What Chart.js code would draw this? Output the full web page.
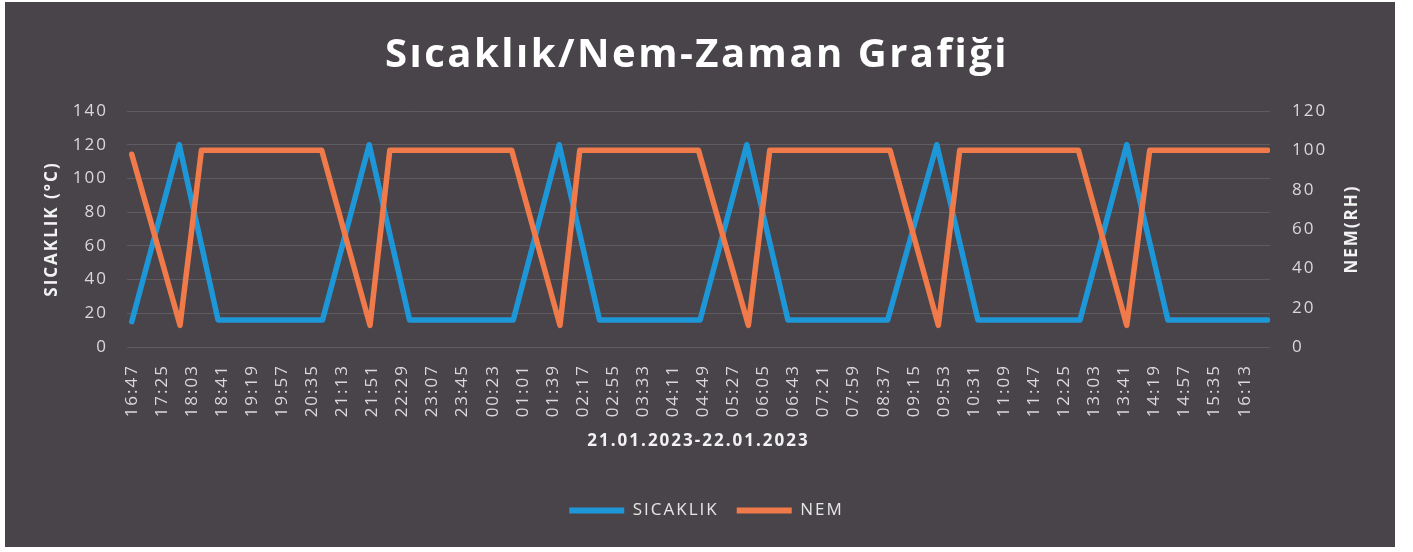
<!DOCTYPE html>
<html lang="tr">
<head>
  <meta charset="UTF-8" />
  <title>Sıcaklık/Nem-Zaman Grafiği</title>
  <script src="https://cdn.jsdelivr.net/npm/chart.js"></script>
  <style>
    * { box-sizing: border-box; margin: 0; padding: 0; }
    body { background: #fff; width: 1413px; height: 552px; overflow: hidden; }
    canvas { display: block; }
  </style>
</head>
<body>
  <canvas id="chart" width="1413" height="552"></canvas>

  <script>
    // x labels, one every 38 minutes starting 21.01.2023 16:47
    const timeLabels = [
      '16:47', '17:25', '18:03', '18:41', '19:19', '19:57', '20:35', '21:13', '21:51', '22:29',
      '23:07', '23:45', '00:23', '01:01', '01:39', '02:17', '02:55', '03:33', '04:11', '04:49',
      '05:27', '06:05', '06:43', '07:21', '07:59', '08:37', '09:15', '09:53', '10:31', '11:09',
      '11:47', '12:25', '13:03', '13:41', '14:19', '14:57', '15:35', '16:13'
    ];
    const labelStep = 38; // minutes between labels

    // SICAKLIK: minutes after 16:47 and value (°C) at each corner of the line
    const tempTimes  = [0, 60, 109, 241, 300, 351, 482, 540, 591, 718, 777, 829, 955, 1017, 1069, 1198, 1257, 1309, 1435];
    const tempValues = [15, 120, 16, 16, 120, 16, 16, 120, 16, 16, 120, 16, 16, 120, 16, 16, 120, 16, 16];

    // NEM: minutes after 16:47 and value (RH)
    const humTimes  = [0, 61, 88, 240, 301, 326, 480, 541, 566, 716, 779, 806, 958, 1019, 1046, 1196, 1257, 1286, 1435];
    const humValues = [98, 11, 100, 100, 11, 100, 100, 11, 100, 100, 11, 100, 100, 11, 100, 100, 11, 100, 100];

    const BLUE = '#1e97d8';
    const ORANGE = '#f07a4a';
    const BG = '#48444a';
    const FONT = "'Open Sans', sans-serif";

    Chart.defaults.font.family = FONT;
    Chart.defaults.font.size = 17;
    Chart.defaults.color = '#d9d9d9';

    const toPoints = (xs, ys) => xs.map((x, i) => ({ x: x, y: ys[i] }));

    // wide letter spacing, like the excel chart style
    const spacing = {
      id: 'spacing',
      beforeUpdate(chart) { chart.ctx.letterSpacing = '2px'; },
      beforeLayout(chart) { chart.ctx.letterSpacing = '2px'; },
      beforeDraw(chart) {
        const ctx = chart.ctx;
        ctx.save();
        ctx.fillStyle = '#ffffff';
        ctx.fillRect(0, 0, chart.width, chart.height);
        ctx.fillStyle = BG;
        ctx.fillRect(5, 2, 1390, 545);
        ctx.restore();
        ctx.letterSpacing = '2px';
      },
      afterDraw(chart) {
        const ctx = chart.ctx;
        ctx.save();
        ctx.fillStyle = '#ffffff';
        ctx.textAlign = 'center';
        ctx.textBaseline = 'alphabetic';
        ctx.letterSpacing = '2.5px';
        ctx.font = "bold 40px " + FONT;
        ctx.fillText('Sıcaklık/Nem-Zaman Grafiği', 697, 67);

        // right axis title reads bottom to top
        ctx.letterSpacing = '2px';
        ctx.font = "bold 17px " + FONT;
        ctx.fillStyle = '#f2f2f2';
        ctx.textBaseline = 'middle';
        ctx.translate(1352, 229);
        ctx.rotate(-Math.PI / 2);
        ctx.fillText('NEM(RH)', 0, 0);
        ctx.restore();
      }
    };

    new Chart(document.getElementById('chart'), {
      type: 'line',
      data: {
        datasets: [
          {
            label: 'SICAKLIK',
            data: toPoints(tempTimes, tempValues),
            yAxisID: 'y',
            borderColor: BLUE,
            backgroundColor: BLUE,
            borderWidth: 5.5,
            pointRadius: 0,
            borderJoinStyle: 'round',
            borderCapStyle: 'round',
            order: 1
          },
          {
            label: 'NEM',
            data: toPoints(humTimes, humValues),
            yAxisID: 'y1',
            borderColor: ORANGE,
            backgroundColor: ORANGE,
            borderWidth: 5.5,
            pointRadius: 0,
            borderJoinStyle: 'round',
            borderCapStyle: 'round',
            order: 0
          }
        ]
      },
      options: {
        responsive: false,
        animation: false,
        layout: { padding: { top: 111, bottom: 23, left: 0, right: 0 } },
        plugins: {
          title: { display: false },
          tooltip: { enabled: false },
          legend: {
            position: 'bottom',
            labels: {
              boxWidth: 55,
              boxHeight: 6,
              padding: 18,
              color: '#e6e6e6',
              sort: (a, b) => a.datasetIndex - b.datasetIndex,
              generateLabels: ch => Chart.defaults.plugins.legend.labels.generateLabels(ch)
                .map(l => Object.assign(l, { lineWidth: 0 }))
            }
          }
        },
        scales: {
          x: {
            type: 'linear',
            min: -6,
            max: 1438,
            grid: { display: false },
            border: { display: false },
            afterBuildTicks: s => { s.ticks = timeLabels.map((_, i) => ({ value: i * labelStep })); },
            afterFit: s => { s.height = 137; },
            ticks: {
              autoSkip: false,
              maxRotation: 90,
              minRotation: 90,
              padding: 9,
              color: '#d9d9d9',
              callback: (v, i) => timeLabels[i]
            },
            title: {
              display: true,
              text: '21.01.2023-22.01.2023',
              color: '#f2f2f2',
              font: { weight: 'bold', size: 17 },
              padding: { top: 0, bottom: 33 }
            }
          },
          y: {
            position: 'left',
            min: 0,
            max: 140,
            afterFit: s => { s.width = 127; },
            ticks: { stepSize: 20, padding: 19, color: '#d9d9d9' },
            grid: { color: 'rgba(255,255,255,0.13)', lineWidth: 1, drawTicks: false },
            border: { display: false },
            title: {
              display: true,
              text: 'SICAKLIK (°C)',
              color: '#f2f2f2',
              font: { weight: 'bold', size: 17 },
              padding: { top: 42, bottom: 0 }
            }
          },
          y1: {
            position: 'right',
            min: 0,
            max: 120,
            afterFit: s => { s.width = 143; },
            ticks: { stepSize: 20, padding: 22, color: '#d9d9d9' },
            grid: { display: false, drawTicks: false },
            border: { display: false }
          }
        }
      },
      plugins: [spacing]
    });
  </script>
</body>
</html>
